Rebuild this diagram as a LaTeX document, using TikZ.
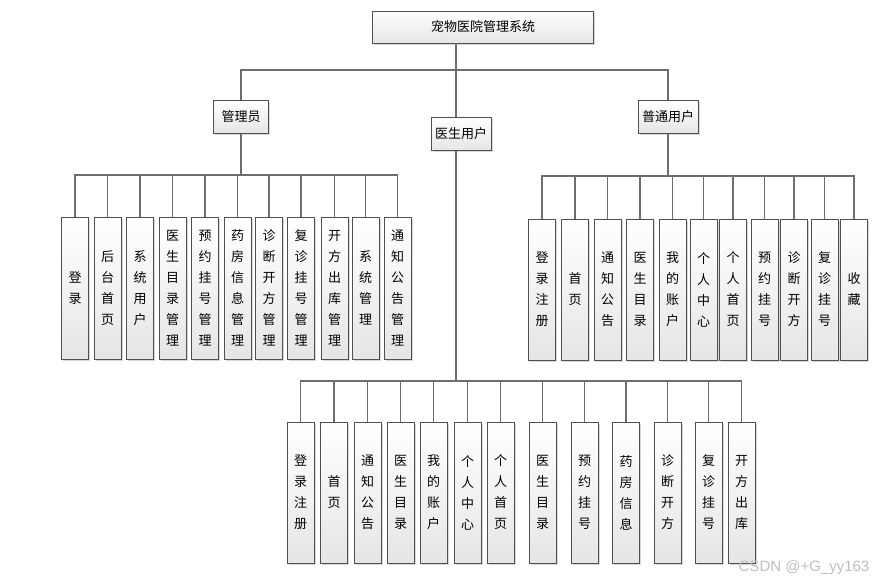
\documentclass[tikz,border=0pt]{standalone}
\usepackage{fontspec}
\setmainfont{Noto Sans CJK SC}
\newfontfamily\markfont{Liberation Sans}
\usetikzlibrary{shadows}
\definecolor{LineGray}{HTML}{6E6E6E}
\definecolor{EdgeGray}{HTML}{505050}

\tikzset{
  box/.style={draw=EdgeGray, line width=0.9pt, top color=white, bottom color=black!10,
    drop shadow={shadow xshift=1.5pt, shadow yshift=-1.5pt, fill=black!30},
    inner sep=0pt, align=center, font=\fontsize{13pt}{21pt}\selectfont},
  rolebox/.style={box, minimum height=33pt},
  leaf/.style={box, minimum width=27pt, minimum height=141pt},
  link/.style={draw=LineGray, line width=1.2pt}
}

\begin{document}
\begin{tikzpicture}[x=1pt, y=-1pt]
  \useasboundingbox (0,0) rectangle (877,584);

  % top level
  \node[box, minimum width=221pt, minimum height=32pt] (root) at (483,27) {宠物医院管理系统};
  \node[rolebox, minimum width=55pt] (admin) at (241,117) {管理员};
  \node[rolebox, minimum width=60pt] (doc) at (461,134) {医生用户};
  \node[rolebox, minimum width=60pt] (user) at (668,117) {普通用户};

  \coordinate (topbar) at (456,70);
  \coordinate (admbar) at (241,175);
  \coordinate (userbar) at (668,176);
  \coordinate (docbar) at (456,381);

  % admin functions
  \node[leaf, minimum height=142pt] (adm1) at (75,288) {登\\录};
  \node[leaf, minimum height=142pt] (adm2) at (107.5,288) {后\\台\\首\\页};
  \node[leaf, minimum height=142pt] (adm3) at (140,288) {系\\统\\用\\户};
  \node[leaf, minimum height=142pt] (adm4) at (172.5,288) {医\\生\\目\\录\\管\\理};
  \node[leaf, minimum height=142pt] (adm5) at (205,288) {预\\约\\挂\\号\\管\\理};
  \node[leaf, minimum height=142pt] (adm6) at (237.5,288) {药\\房\\信\\息\\管\\理};
  \node[leaf, minimum height=142pt] (adm7) at (269,288) {诊\\断\\开\\方\\管\\理};
  \node[leaf, minimum height=142pt] (adm8) at (301,288) {复\\诊\\挂\\号\\管\\理};
  \node[leaf, minimum height=142pt] (adm9) at (334.5,288) {开\\方\\出\\库\\管\\理};
  \node[leaf, minimum height=142pt] (adm10) at (365.5,288) {系\\统\\管\\理};
  \node[leaf, minimum height=142pt] (adm11) at (397.5,288) {通\\知\\公\\告\\管\\理};

  % user functions
  \node[leaf] (usr1) at (542,289.5) {登\\录\\注\\册};
  \node[leaf] (usr2) at (575,289.5) {首\\页};
  \node[leaf] (usr3) at (607.5,289.5) {通\\知\\公\\告};
  \node[leaf] (usr4) at (640,289.5) {医\\生\\目\\录};
  \node[leaf] (usr5) at (672.5,289.5) {我\\的\\账\\户};
  \node[leaf] (usr6) at (703.5,289.5) {个\\人\\中\\心};
  \node[leaf] (usr7) at (733,289.5) {个\\人\\首\\页};
  \node[leaf] (usr8) at (764.5,289.5) {预\\约\\挂\\号};
  \node[leaf] (usr9) at (794,289.5) {诊\\断\\开\\方};
  \node[leaf] (usr10) at (824.5,289.5) {复\\诊\\挂\\号};
  \node[leaf] (usr11) at (854,289.5) {收\\藏};

  % doctor functions
  \node[leaf] (dr1) at (300.5,492.5) {登\\录\\注\\册};
  \node[leaf] (dr2) at (334,492.5) {首\\页};
  \node[leaf] (dr3) at (367.5,492.5) {通\\知\\公\\告};
  \node[leaf] (dr4) at (400.5,492.5) {医\\生\\目\\录};
  \node[leaf] (dr5) at (433.5,492.5) {我\\的\\账\\户};
  \node[leaf] (dr6) at (467.5,492.5) {个\\人\\中\\心};
  \node[leaf] (dr7) at (500.5,492.5) {个\\人\\首\\页};
  \node[leaf] (dr8) at (542.5,492.5) {医\\生\\目\\录};
  \node[leaf] (dr9) at (584.5,492.5) {预\\约\\挂\\号};
  \node[leaf] (dr10) at (626,492.5) {药\\房\\信\\息};
  \node[leaf] (dr11) at (667.5,492.5) {诊\\断\\开\\方};
  \node[leaf] (dr12) at (708.5,492.5) {复\\诊\\挂\\号};
  \node[leaf] (dr13) at (741.5,492.5) {开\\方\\出\\库};

  % connectors
  \draw[link] (root.south -| topbar) -- (doc.north -| topbar);
  \draw[link] (topbar) -| (admin.north);
  \draw[link] (topbar) -| (user.north);
  \draw[link] (admin.south) -- (admbar);
  \draw[link] (user.south) -- (userbar);
  \draw[link] (doc.south -| docbar) -- (docbar);

  \draw[link] (adm1.north) |- (admbar) (adm2.north) |- (admbar) (adm3.north) |- (admbar)
    (adm4.north) |- (admbar) (adm5.north) |- (admbar) (adm6.north) |- (admbar)
    (adm7.north) |- (admbar) (adm8.north) |- (admbar) (adm9.north) |- (admbar)
    (adm10.north) |- (admbar) (adm11.north) |- (admbar);
  \draw[link] (usr1.north) |- (userbar) (usr2.north) |- (userbar) (usr3.north) |- (userbar)
    (usr4.north) |- (userbar) (usr5.north) |- (userbar) (usr6.north) |- (userbar)
    (usr7.north) |- (userbar) (usr8.north) |- (userbar) (usr9.north) |- (userbar)
    (usr10.north) |- (userbar) (usr11.north) |- (userbar);
  \draw[link] (dr1.north) |- (docbar) (dr2.north) |- (docbar) (dr3.north) |- (docbar)
    (dr4.north) |- (docbar) (dr5.north) |- (docbar) (dr6.north) |- (docbar)
    (dr7.north) |- (docbar) (dr8.north) |- (docbar) (dr9.north) |- (docbar)
    (dr10.north) |- (docbar) (dr11.north) |- (docbar) (dr12.north) |- (docbar)
    (dr13.north) |- (docbar);

  % watermark
  \node[text=black!25, font=\markfont\fontsize{15pt}{15pt}\selectfont] (mark) at (804,568) {CSDN @+G\_yy163};
\end{tikzpicture}
\end{document}
